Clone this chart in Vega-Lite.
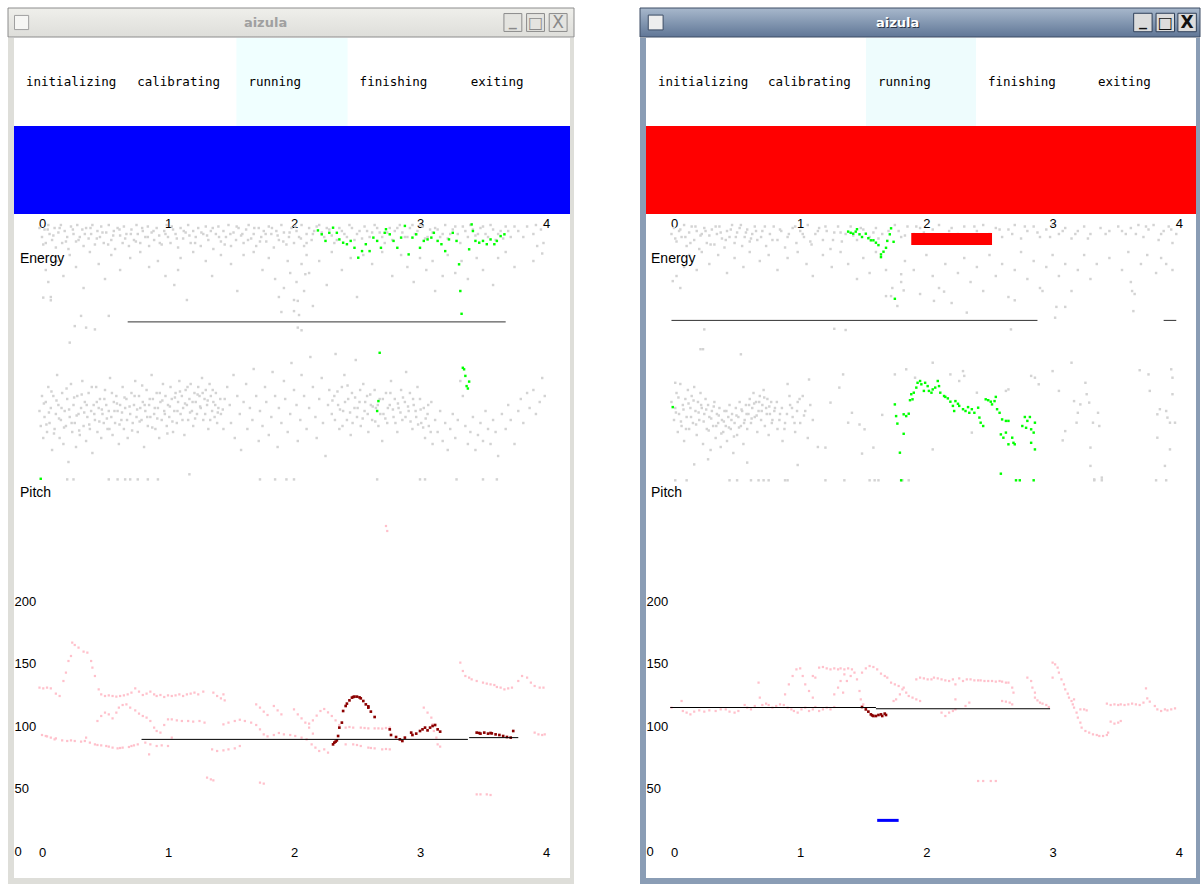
{
"$schema": "https://vega.github.io/schema/vega-lite/v6.json",
"background": "white",
"padding": {"left": 7, "top": 7, "right": 0, "bottom": 0},
"config": {
  "view": {"stroke": null},
  "axis": {"labelFont": "Liberation Sans", "labelFontSize": 13, "labelColor": "#000000"},
  "text": {"font": "Liberation Sans"}
},
"datasets": {
"states": [{"state":"initializing","current":false},{"state":"calibrating","current":false},{"state":"running","current":true},{"state":"finishing","current":false},{"state":"exiting","current":false}],
"LEg": [{"t":-0.02,"v":86},{"t":0,"v":83},{"t":0.02,"v":85.5},{"t":0.03,"v":81},{"t":0.05,"v":87},{"t":0.06,"v":84},{"t":0.08,"v":82},{"t":0.1,"v":86},{"t":0.11,"v":79.5},{"t":0.13,"v":84.5},{"t":0.15,"v":87},{"t":0.16,"v":81},{"t":0.18,"v":85},{"t":0.2,"v":83},{"t":0.21,"v":79},{"t":0.23,"v":86.5},{"t":0.25,"v":84},{"t":0.27,"v":81.5},{"t":0.28,"v":87},{"t":0.3,"v":83},{"t":0.32,"v":85.5},{"t":0.33,"v":80},{"t":0.35,"v":86},{"t":0.37,"v":82.5},{"t":0.39,"v":84},{"t":0.4,"v":87},{"t":0.42,"v":80.5},{"t":0.44,"v":85},{"t":0.46,"v":83},{"t":0.47,"v":86.5},{"t":0.49,"v":81},{"t":0.51,"v":84.5},{"t":0.53,"v":87},{"t":0.55,"v":82},{"t":0.57,"v":85},{"t":0.58,"v":79},{"t":0.6,"v":86},{"t":0.62,"v":83.5},{"t":0.64,"v":81},{"t":0.65,"v":86.5},{"t":0.67,"v":84},{"t":0.69,"v":80},{"t":0.71,"v":85.5},{"t":0.73,"v":82},{"t":0.75,"v":87},{"t":0.76,"v":84},{"t":0.78,"v":81},{"t":0.8,"v":85},{"t":0.82,"v":83},{"t":0.84,"v":86.5},{"t":0.85,"v":80},{"t":0.87,"v":84.5},{"t":0.89,"v":82},{"t":0.91,"v":86},{"t":0.93,"v":83.5},{"t":0.95,"v":80.5},{"t":0.97,"v":85},{"t":0.99,"v":87},{"t":1,"v":83},{"t":1.02,"v":81},{"t":1.04,"v":85.5},{"t":1.06,"v":84},{"t":1.08,"v":79.5},{"t":1.1,"v":86},{"t":1.12,"v":82.5},{"t":1.14,"v":84.5},{"t":1.16,"v":87},{"t":1.18,"v":81},{"t":1.2,"v":85},{"t":1.22,"v":83},{"t":1.24,"v":86},{"t":1.26,"v":80},{"t":1.28,"v":84},{"t":1.3,"v":86.5},{"t":1.32,"v":82},{"t":1.34,"v":85},{"t":1.36,"v":79},{"t":1.38,"v":84},{"t":1.4,"v":86.5},{"t":1.42,"v":81.5},{"t":1.44,"v":85},{"t":1.46,"v":83},{"t":1.48,"v":87},{"t":1.5,"v":80},{"t":1.52,"v":84.5},{"t":1.54,"v":82},{"t":1.56,"v":86},{"t":1.58,"v":83.5},{"t":1.6,"v":81},{"t":1.62,"v":85.5},{"t":1.64,"v":87},{"t":1.66,"v":82.5},{"t":1.68,"v":84},{"t":1.7,"v":80},{"t":1.72,"v":86},{"t":1.74,"v":83},{"t":1.76,"v":85},{"t":1.78,"v":81.5},{"t":1.8,"v":86.5},{"t":1.82,"v":84},{"t":1.84,"v":79.5},{"t":1.86,"v":85},{"t":1.88,"v":82},{"t":1.9,"v":87},{"t":1.92,"v":84.5},{"t":1.94,"v":80.5},{"t":1.96,"v":83},{"t":1.98,"v":86},{"t":2,"v":81},{"t":2.02,"v":85},{"t":2.04,"v":83},{"t":2.06,"v":87},{"t":2.08,"v":80},{"t":2.1,"v":84},{"t":2.12,"v":86},{"t":2.14,"v":82},{"t":2.16,"v":85},{"t":2.2,"v":87},{"t":2.24,"v":83},{"t":2.28,"v":85.5},{"t":2.32,"v":81},{"t":2.36,"v":86},{"t":2.4,"v":84},{"t":2.44,"v":87},{"t":2.48,"v":82},{"t":2.52,"v":85},{"t":2.56,"v":86.5},{"t":2.6,"v":83},{"t":2.64,"v":87},{"t":2.68,"v":84.5},{"t":2.72,"v":81},{"t":2.76,"v":86},{"t":2.8,"v":85},{"t":2.84,"v":87},{"t":2.88,"v":83},{"t":2.92,"v":86},{"t":2.96,"v":84},{"t":3,"v":87},{"t":3.04,"v":82.5},{"t":3.08,"v":85.5},{"t":3.12,"v":86},{"t":3.16,"v":83},{"t":3.2,"v":87},{"t":3.24,"v":84},{"t":3.28,"v":86.5},{"t":3.32,"v":81},{"t":3.36,"v":85},{"t":3.4,"v":87},{"t":3.44,"v":83.5},{"t":3.48,"v":86},{"t":3.52,"v":84},{"t":3.56,"v":87},{"t":3.6,"v":82},{"t":3.64,"v":85},{"t":3.68,"v":86.5},{"t":3.72,"v":83},{"t":3.78,"v":85},{"t":3.85,"v":86.5},{"t":3.9,"v":84},{"t":3.92,"v":87},{"t":3.96,"v":85.5},{"t":3.98,"v":81},{"t":3.93,"v":80},{"t":3.97,"v":77.5},
{"t":0.01,"v":80.5},{"t":0.045,"v":85.5},{"t":0.09,"v":83.5},{"t":0.14,"v":86},{"t":0.19,"v":81.5},{"t":0.245,"v":85.5},{"t":0.29,"v":82},{"t":0.34,"v":84},{"t":0.385,"v":86},{"t":0.435,"v":82.5},{"t":0.48,"v":84.5},{"t":0.525,"v":80.5},{"t":0.565,"v":83.5},{"t":0.615,"v":85.5},{"t":0.66,"v":82.5},{"t":0.705,"v":84},{"t":0.745,"v":81.5},{"t":0.795,"v":86},{"t":0.84,"v":83},{"t":0.885,"v":85},{"t":0.935,"v":81},{"t":0.98,"v":84},{"t":1.03,"v":86.5},{"t":1.07,"v":82.5},{"t":1.125,"v":85},{"t":1.17,"v":83.5},{"t":1.215,"v":81},{"t":1.265,"v":84.5},{"t":1.31,"v":83.5},{"t":1.355,"v":86},{"t":1.405,"v":83},{"t":1.45,"v":80.5},{"t":1.495,"v":84},{"t":1.545,"v":86.5},{"t":1.59,"v":84},{"t":1.635,"v":82},{"t":1.685,"v":86},{"t":1.73,"v":81.5},{"t":1.775,"v":84},{"t":1.825,"v":86},{"t":1.87,"v":83.5},{"t":1.915,"v":81.5},{"t":1.965,"v":84.5},{"t":2.01,"v":86.5},{"t":2.055,"v":82.5},{"t":2.1,"v":81},{"t":2.15,"v":84},{"t":2.18,"v":86.5},{"t":2.22,"v":84.5},{"t":2.26,"v":86},{"t":2.3,"v":83.5},{"t":2.34,"v":82},{"t":2.38,"v":85},{"t":2.42,"v":83},{"t":2.46,"v":86},{"t":2.5,"v":84},{"t":2.54,"v":82.5},{"t":2.58,"v":85},{"t":2.62,"v":84.5},{"t":2.66,"v":86},{"t":2.7,"v":83},{"t":2.74,"v":84.5},{"t":2.78,"v":82},{"t":2.82,"v":86},{"t":2.86,"v":84.5},{"t":2.9,"v":83},{"t":2.94,"v":87},{"t":2.98,"v":85},{"t":3.02,"v":86.5},{"t":3.06,"v":83},{"t":3.1,"v":84.5},{"t":3.14,"v":85.5},{"t":3.18,"v":84},{"t":3.22,"v":82.5},{"t":3.26,"v":85.5},{"t":3.3,"v":84},{"t":3.34,"v":86.5},{"t":3.38,"v":83},{"t":3.42,"v":85.5},{"t":3.46,"v":84},{"t":3.5,"v":86.5},{"t":3.54,"v":83},{"t":3.58,"v":85.5},{"t":3.62,"v":84},{"t":3.66,"v":82.5},{"t":3.7,"v":85},{"t":3.75,"v":86.5},{"t":3.82,"v":83},
{"t":0,"v":76},{"t":0.03,"v":72},{"t":0.05,"v":68},{"t":0.07,"v":63},{"t":0.12,"v":75},{"t":0.17,"v":70},{"t":0.22,"v":77},{"t":0.27,"v":73},{"t":0.33,"v":66},{"t":0.38,"v":78},{"t":0.45,"v":74},{"t":0.5,"v":69},{"t":0.55,"v":77},{"t":0.62,"v":72},{"t":0.7,"v":76},{"t":0.78,"v":78},{"t":0.85,"v":73},{"t":0.92,"v":75},{"t":0.98,"v":70},{"t":1.05,"v":67},{"t":1.08,"v":72},{"t":1.1,"v":76},{"t":1.15,"v":62},{"t":1.2,"v":78},{"t":1.3,"v":75},{"t":1.35,"v":70},{"t":1.42,"v":77},{"t":1.5,"v":74},{"t":1.55,"v":65},{"t":1.6,"v":77},{"t":1.68,"v":78},{"t":1.75,"v":72},{"t":1.8,"v":76},{"t":1.85,"v":69},{"t":1.88,"v":63},{"t":1.9,"v":58},{"t":1.92,"v":66},{"t":1.95,"v":75},{"t":1.97,"v":71},{"t":2,"v":62},{"t":2.02,"v":68},{"t":2.04,"v":57},{"t":2.06,"v":74},{"t":2.08,"v":65},{"t":2.1,"v":77},{"t":2.12,"v":71},{"t":2.15,"v":60},{"t":2.2,"v":75},{"t":2.26,"v":67},{"t":2.3,"v":78},{"t":2.38,"v":72},{"t":2.45,"v":76},{"t":2.5,"v":63},{"t":2.55,"v":77},{"t":2.62,"v":74},{"t":2.7,"v":78},{"t":2.78,"v":70},{"t":2.85,"v":77},{"t":2.9,"v":73},{"t":2.95,"v":68},{"t":3,"v":76},{"t":3.05,"v":72},{"t":3.1,"v":75},{"t":3.12,"v":65},{"t":3.18,"v":70},{"t":3.22,"v":77},{"t":3.28,"v":71},{"t":3.33,"v":75},{"t":3.38,"v":69},{"t":3.45,"v":76},{"t":3.5,"v":72},{"t":3.58,"v":67},{"t":3.62,"v":76},{"t":3.68,"v":78},{"t":3.75,"v":73},{"t":3.9,"v":75},
{"t":0.01,"v":62.8},{"t":0.07,"v":61.9},{"t":0.31,"v":56.7},{"t":0.35,"v":52.8},{"t":0.42,"v":52.2},{"t":0.26,"v":53.3},{"t":0.22,"v":47.8},{"t":0.53,"v":56.7},{"t":2.03,"v":61.7},{"t":2.09,"v":70.6},{"t":2.03,"v":52.8},{"t":2.06,"v":51.9},{"t":2,"v":58.3},
{"t":-0.02,"v":25},{"t":-0.01,"v":20},{"t":0,"v":30},{"t":0.01,"v":16},{"t":0.02,"v":23},{"t":0.03,"v":28},{"t":0.04,"v":18},{"t":0.05,"v":33},{"t":0.06,"v":21},{"t":0.07,"v":26},{"t":0.08,"v":12},{"t":0.09,"v":30},{"t":0.1,"v":19},{"t":0.11,"v":24},{"t":0.12,"v":37},{"t":0.13,"v":27},{"t":0.14,"v":16},{"t":0.15,"v":22},{"t":0.16,"v":31},{"t":0.17,"v":14},{"t":0.18,"v":25},{"t":0.19,"v":20},{"t":0.2,"v":29},{"t":0.21,"v":8},{"t":0.22,"v":23},{"t":0.23,"v":34},{"t":0.24,"v":18},{"t":0.25,"v":27},{"t":0.26,"v":21},{"t":0.27,"v":13},{"t":0.28,"v":30},{"t":0.29,"v":24},{"t":0.3,"v":17},{"t":0.31,"v":26},{"t":0.32,"v":35},{"t":0.33,"v":20},{"t":0.34,"v":28},{"t":0.35,"v":15},{"t":0.36,"v":23},{"t":0.37,"v":31},{"t":0.38,"v":19},{"t":0.39,"v":25},{"t":0.4,"v":11},{"t":0.41,"v":27},{"t":0.42,"v":22},{"t":0.43,"v":33},{"t":0.44,"v":18},{"t":0.45,"v":26},{"t":0.46,"v":29},{"t":0.47,"v":16},{"t":0.48,"v":24},{"t":0.49,"v":21},{"t":0.5,"v":32},{"t":0.51,"v":27},{"t":0.52,"v":19},{"t":0.53,"v":25},{"t":0.54,"v":36},{"t":0.55,"v":23},{"t":0.56,"v":17},{"t":0.57,"v":28},{"t":0.58,"v":21},{"t":0.59,"v":30},{"t":0.6,"v":25},{"t":0.61,"v":14},{"t":0.62,"v":27},{"t":0.63,"v":22},{"t":0.64,"v":33},{"t":0.65,"v":19},{"t":0.66,"v":26},{"t":0.67,"v":29},{"t":0.68,"v":16},{"t":0.7,"v":24},{"t":0.71,"v":31},{"t":0.72,"v":21},{"t":0.73,"v":27},{"t":0.74,"v":35},{"t":0.75,"v":23},{"t":0.76,"v":18},{"t":0.77,"v":30},{"t":0.78,"v":26},{"t":0.79,"v":22},{"t":0.8,"v":28},{"t":0.81,"v":13},{"t":0.82,"v":25},{"t":0.83,"v":32},{"t":0.84,"v":20},{"t":0.85,"v":27},{"t":0.86,"v":23},{"t":0.87,"v":37},{"t":0.88,"v":29},{"t":0.89,"v":24},{"t":0.9,"v":19},{"t":0.91,"v":31},{"t":0.92,"v":26},{"t":0.93,"v":16},{"t":0.94,"v":28},{"t":0.95,"v":22},{"t":0.96,"v":34},{"t":0.97,"v":25},{"t":0.98,"v":30},{"t":0.99,"v":20},{"t":1,"v":27},{"t":1.01,"v":23},{"t":1.02,"v":33},{"t":1.03,"v":29},{"t":1.04,"v":18},{"t":1.05,"v":25},{"t":1.06,"v":31},{"t":1.07,"v":21},{"t":1.08,"v":28},{"t":1.09,"v":35},{"t":1.1,"v":24},{"t":1.11,"v":30},{"t":1.12,"v":26},{"t":1.13,"v":17},{"t":1.14,"v":32},{"t":1.15,"v":27},{"t":1.16,"v":22},{"t":1.17,"v":29},{"t":1.18,"v":34},{"t":1.19,"v":25},{"t":1.2,"v":20},{"t":1.21,"v":31},{"t":1.22,"v":28},{"t":1.23,"v":24},{"t":1.24,"v":33},{"t":1.25,"v":30},{"t":1.26,"v":26},{"t":1.27,"v":36},{"t":1.28,"v":22},{"t":1.29,"v":29},{"t":1.3,"v":32},{"t":1.31,"v":27},{"t":1.32,"v":19},{"t":1.33,"v":34},{"t":1.34,"v":30},{"t":1.35,"v":25},{"t":1.36,"v":28},{"t":1.37,"v":23},{"t":1.38,"v":31},{"t":1.39,"v":21},{"t":1.4,"v":26},{"t":1.42,"v":24},{"t":1.44,"v":19},{"t":1.45,"v":29},
{"t":0.015,"v":27.5},{"t":0.035,"v":20.5},{"t":0.055,"v":24.5},{"t":0.075,"v":31.5},{"t":0.095,"v":17.5},{"t":0.115,"v":28.5},{"t":0.135,"v":22.5},{"t":0.155,"v":26},{"t":0.175,"v":19.5},{"t":0.195,"v":32.5},{"t":0.215,"v":25.5},{"t":0.235,"v":21},{"t":0.255,"v":29.5},{"t":0.275,"v":23.5},{"t":0.295,"v":18.5},{"t":0.315,"v":30.5},{"t":0.335,"v":24.5},{"t":0.355,"v":27},{"t":0.375,"v":20.5},{"t":0.395,"v":33},{"t":0.415,"v":24},{"t":0.435,"v":28},{"t":0.455,"v":21.5},{"t":0.475,"v":25.5},{"t":0.495,"v":29},{"t":0.515,"v":22.5},{"t":0.535,"v":19},{"t":0.555,"v":31},{"t":0.575,"v":25},{"t":0.595,"v":27.5},{"t":0.615,"v":20.5},{"t":0.635,"v":24.5},{"t":0.655,"v":29.5},{"t":0.675,"v":22},{"t":0.695,"v":26.5},{"t":0.715,"v":18.5},{"t":0.735,"v":30},{"t":0.755,"v":25.5},{"t":0.775,"v":21.5},{"t":0.795,"v":33.5},{"t":0.815,"v":27},{"t":0.835,"v":23},{"t":0.855,"v":29},{"t":0.875,"v":19.5},{"t":0.895,"v":26},{"t":0.915,"v":22.5},{"t":0.935,"v":31},{"t":0.955,"v":28.5},{"t":0.975,"v":24},{"t":0.995,"v":17.5},{"t":1.015,"v":26.5},{"t":1.035,"v":21.5},{"t":1.055,"v":29.5},{"t":1.075,"v":25},{"t":1.095,"v":31.5},{"t":1.115,"v":22},{"t":1.135,"v":27.5},{"t":1.155,"v":33},{"t":1.175,"v":24.5},{"t":1.195,"v":28},{"t":1.215,"v":22.5},{"t":1.235,"v":30.5},{"t":1.255,"v":26.5},{"t":1.275,"v":31},{"t":1.295,"v":24},{"t":1.315,"v":28.5},{"t":1.335,"v":22},{"t":1.355,"v":32},{"t":1.375,"v":27},{"t":1.395,"v":24.5},{"t":1.415,"v":29},{"t":1.435,"v":25.5},
{"t":1.47,"v":33},{"t":1.49,"v":27},{"t":1.5,"v":21},{"t":1.52,"v":37},{"t":1.53,"v":16},{"t":1.55,"v":30},{"t":1.57,"v":24},{"t":1.58,"v":12},{"t":1.6,"v":28},{"t":1.62,"v":34},{"t":1.63,"v":19},{"t":1.65,"v":26},{"t":1.67,"v":22},{"t":1.68,"v":39},{"t":1.7,"v":30},{"t":1.72,"v":15},{"t":1.73,"v":25},{"t":1.75,"v":20},{"t":1.77,"v":33},{"t":1.78,"v":28},{"t":1.8,"v":17},{"t":1.82,"v":23},{"t":1.83,"v":38},{"t":1.85,"v":30},{"t":1.87,"v":13},{"t":1.88,"v":26},{"t":1.9,"v":21},{"t":1.92,"v":35},{"t":1.93,"v":29},{"t":1.95,"v":18},{"t":1.97,"v":24},{"t":1.98,"v":41},{"t":2,"v":32},{"t":2.02,"v":27},{"t":2.03,"v":15},{"t":2.05,"v":22},{"t":2.06,"v":37},{"t":2.08,"v":30},{"t":2.1,"v":19},{"t":2.12,"v":26},{"t":2.13,"v":43},{"t":2.15,"v":33},{"t":2.17,"v":23},{"t":2.18,"v":16},{"t":2.2,"v":29},{"t":2.22,"v":36},{"t":2.23,"v":21},{"t":2.25,"v":10},{"t":2.27,"v":27},{"t":2.28,"v":32},
{"t":2.3,"v":24},{"t":2.32,"v":30},{"t":2.33,"v":44},{"t":2.35,"v":27},{"t":2.36,"v":19},{"t":2.38,"v":33},{"t":2.39,"v":25},{"t":2.4,"v":37},{"t":2.42,"v":22},{"t":2.43,"v":29},{"t":2.45,"v":17},{"t":2.46,"v":31},{"t":2.48,"v":26},{"t":2.49,"v":42},{"t":2.5,"v":23},{"t":2.52,"v":28},{"t":2.53,"v":20},{"t":2.55,"v":34},{"t":2.56,"v":25},{"t":2.58,"v":30},{"t":2.59,"v":18},{"t":2.61,"v":27},{"t":2.62,"v":22},{"t":2.64,"v":32},{"t":2.65,"v":26},{"t":2.67,"v":20},{"t":2.68,"v":29},{"t":2.7,"v":15},{"t":2.71,"v":24},{"t":2.73,"v":31},{"t":2.74,"v":21},{"t":2.76,"v":27},{"t":2.77,"v":35},{"t":2.79,"v":23},{"t":2.8,"v":29},{"t":2.82,"v":18},{"t":2.83,"v":26},{"t":2.85,"v":32},{"t":2.86,"v":22},{"t":2.88,"v":28},{"t":2.89,"v":38},{"t":2.91,"v":25},{"t":2.92,"v":31},{"t":2.94,"v":19},{"t":2.95,"v":27},{"t":2.97,"v":23},{"t":2.98,"v":33},{"t":3,"v":29},{"t":3.01,"v":21},{"t":3.03,"v":26},{"t":3.04,"v":16},{"t":3.06,"v":24},{"t":3.07,"v":20},{"t":3.09,"v":28},{"t":3.1,"v":14},
{"t":2.305,"v":28.5},{"t":2.325,"v":22},{"t":2.345,"v":31.5},{"t":2.365,"v":25.5},{"t":2.385,"v":20},{"t":2.405,"v":28},{"t":2.425,"v":33.5},{"t":2.445,"v":24.5},{"t":2.465,"v":21},{"t":2.485,"v":29.5},{"t":2.505,"v":26},{"t":2.525,"v":32},{"t":2.545,"v":22.5},{"t":2.565,"v":28},{"t":2.585,"v":24},{"t":2.605,"v":30.5},{"t":2.625,"v":26.5},{"t":2.645,"v":21.5},{"t":2.665,"v":27},{"t":2.685,"v":24},{"t":2.705,"v":29},{"t":2.725,"v":22.5},{"t":2.745,"v":26},{"t":2.765,"v":31},{"t":2.785,"v":25.5},{"t":2.805,"v":21},{"t":2.825,"v":27.5},{"t":2.845,"v":24.5},{"t":2.865,"v":29.5},{"t":2.885,"v":23},{"t":2.905,"v":26.5},{"t":2.925,"v":21.5},{"t":2.945,"v":29},{"t":2.965,"v":25},{"t":2.985,"v":20.5},{"t":3.005,"v":25.5},{"t":3.025,"v":19.5},{"t":3.045,"v":22.5},{"t":3.065,"v":27},{"t":3.085,"v":18},
{"t":3.12,"v":22},{"t":3.14,"v":18},{"t":3.16,"v":25},{"t":3.18,"v":15},{"t":3.2,"v":21},{"t":3.22,"v":12},{"t":3.24,"v":19},{"t":3.26,"v":24},{"t":3.28,"v":16},{"t":3.3,"v":22},{"t":3.32,"v":35},{"t":3.34,"v":30},{"t":3.36,"v":20},{"t":3.38,"v":14},{"t":3.4,"v":18},{"t":3.42,"v":23},{"t":3.44,"v":12},{"t":3.46,"v":17},{"t":3.48,"v":21},{"t":3.5,"v":15},{"t":3.52,"v":25},{"t":3.54,"v":19},{"t":3.56,"v":14},{"t":3.58,"v":22},{"t":3.6,"v":18},{"t":3.62,"v":10},{"t":3.65,"v":24},{"t":3.68,"v":19},{"t":3.7,"v":27},{"t":3.72,"v":22},{"t":3.75,"v":14},{"t":3.78,"v":25},{"t":3.8,"v":29},{"t":3.82,"v":21},{"t":3.85,"v":31},{"t":3.87,"v":26},{"t":3.9,"v":32},{"t":3.92,"v":24},{"t":3.95,"v":28},{"t":3.97,"v":36},{"t":3.99,"v":30},
{"t":0.2,"v":2.2},{"t":0.25,"v":2.2},{"t":0.53,"v":2.2},{"t":0.6,"v":2.2},{"t":0.66,"v":2.2},{"t":0.7,"v":2.2},{"t":0.76,"v":2.2},{"t":0.84,"v":2.2},{"t":0.92,"v":2.2},{"t":1.73,"v":2.2},{"t":1.85,"v":2.2},{"t":1.94,"v":2.2},{"t":2,"v":2.2},{"t":2.66,"v":2.2},{"t":3,"v":2.2},{"t":3.04,"v":2.2},{"t":3.29,"v":2.2},{"t":3.5,"v":2.2},{"t":3.61,"v":2.2},{"t":1.17,"v":3.9}],
"LEgreen": [{"t":2.19,"v":85.2},{"t":2.22,"v":83.9},{"t":2.25,"v":81.7},{"t":2.28,"v":84.4},{"t":2.31,"v":86.1},{"t":2.34,"v":84.4},{"t":2.36,"v":82.2},{"t":2.39,"v":81.1},{"t":2.42,"v":80.6},{"t":2.45,"v":81.7},{"t":2.48,"v":79.4},{"t":2.51,"v":76.1},{"t":2.54,"v":78.3},{"t":2.57,"v":80.6},{"t":2.6,"v":78.3},{"t":2.63,"v":82.8},{"t":2.66,"v":81.7},{"t":2.69,"v":79.4},{"t":2.72,"v":84.4},{"t":2.73,"v":85.6},{"t":2.76,"v":83.9},{"t":2.79,"v":81.7},{"t":2.82,"v":79.4},{"t":2.85,"v":82.8},{"t":2.88,"v":86.7},{"t":2.91,"v":77.2},{"t":2.94,"v":82.8},{"t":2.97,"v":83.9},{"t":3,"v":79.4},{"t":3.03,"v":81.7},{"t":3.06,"v":82.2},{"t":3.09,"v":82.8},{"t":3.11,"v":84.4},{"t":3.14,"v":81.7},{"t":3.17,"v":80.6},{"t":3.2,"v":78.3},{"t":3.23,"v":82.2},{"t":3.26,"v":84.4},{"t":3.29,"v":81.7},{"t":3.31,"v":73.9},{"t":3.32,"v":65},{"t":3.33,"v":57.4},{"t":3.41,"v":87.2},{"t":3.42,"v":85},{"t":3.44,"v":81.7},{"t":3.47,"v":81.1},{"t":3.5,"v":81.7},{"t":3.53,"v":80.6},{"t":3.56,"v":82.2},{"t":3.59,"v":80.6},{"t":3.61,"v":81.7},{"t":3.64,"v":83.3},{"t":3.67,"v":83.9},{"t":3.39,"v":78.9},
{"t":2.68,"v":44.4},{"t":2.67,"v":28.3},{"t":2.66,"v":25},{"t":3.34,"v":39.4},{"t":3.35,"v":38.9},{"t":3.36,"v":36.7},{"t":3.39,"v":34.8},{"t":3.37,"v":33.3},{"t":3.38,"v":32.5},{"t":-0.01,"v":2.4}],
"LErule": [{"t0":0.68,"t1":3.68,"v":54.7}],
"LPpink": [{"t":0,"hz":92.8},{"t":0.03,"hz":92},{"t":0.07,"hz":90.7},{"t":0.11,"hz":90.1},{"t":0.16,"hz":88.5},{"t":0.2,"hz":88},{"t":0.26,"hz":88},{"t":0.31,"hz":87.5},{"t":0.35,"hz":90.7},{"t":0.38,"hz":86.7},{"t":0.42,"hz":85.3},{"t":0.47,"hz":84.5},{"t":0.51,"hz":84},{"t":0.56,"hz":82.7},{"t":0.6,"hz":82.1},{"t":0.64,"hz":82.7},{"t":0.69,"hz":83.2},{"t":0.73,"hz":84.5},{"t":0.76,"hz":85.3},{"t":0.04,"hz":91.7},{"t":0.1,"hz":89.3},{"t":0.23,"hz":88.5},{"t":0.34,"hz":88},{"t":0.44,"hz":84.8},{"t":0.53,"hz":83.5},{"t":0.62,"hz":82.4},{"t":0.71,"hz":84},
{"t":-0.02,"hz":130.7},{"t":0.01,"hz":130.1},{"t":0.04,"hz":130.7},{"t":0.07,"hz":130.1},{"t":0.11,"hz":125.9},{"t":0.14,"hz":124},{"t":0.17,"hz":136},{"t":0.19,"hz":142.7},{"t":0.21,"hz":152},{"t":0.23,"hz":156},{"t":0.24,"hz":166.7},{"t":0.26,"hz":164.8},{"t":0.29,"hz":162.7},{"t":0.33,"hz":159.5},{"t":0.36,"hz":158.7},{"t":0.39,"hz":152},{"t":0.4,"hz":146.7},{"t":0.42,"hz":140},
{"t":0.45,"hz":129.3},{"t":0.47,"hz":125.3},{"t":0.5,"hz":124},{"t":0.53,"hz":124.5},{"t":0.56,"hz":124},{"t":0.59,"hz":123.5},{"t":0.62,"hz":124},{"t":0.65,"hz":124.5},{"t":0.68,"hz":125.3},{"t":0.71,"hz":126.7},{"t":0.74,"hz":130.1},{"t":0.77,"hz":127.5},{"t":0.8,"hz":124.8},{"t":0.83,"hz":125.9},{"t":0.86,"hz":127.5},{"t":0.89,"hz":125.3},{"t":0.91,"hz":124},{"t":0.94,"hz":124.8},{"t":0.97,"hz":123.2},{"t":1,"hz":124.5},{"t":1.03,"hz":124},{"t":1.06,"hz":124.5},{"t":1.09,"hz":125.3},{"t":1.12,"hz":124},{"t":1.15,"hz":125.3},{"t":1.18,"hz":125.9},{"t":1.21,"hz":126.7},{"t":1.24,"hz":125.3},{"t":1.28,"hz":127.5},
{"t":0.44,"hz":104},{"t":0.47,"hz":108},{"t":0.5,"hz":110.7},{"t":0.53,"hz":109.3},{"t":0.56,"hz":106.1},{"t":0.59,"hz":110.7},{"t":0.61,"hz":114.7},{"t":0.64,"hz":116.8},{"t":0.67,"hz":117.3},{"t":0.7,"hz":114.7},{"t":0.74,"hz":112.5},{"t":0.77,"hz":109.9},{"t":0.8,"hz":108},{"t":0.83,"hz":106.7},{"t":0.86,"hz":104},{"t":0.89,"hz":98.7},{"t":0.91,"hz":96},{"t":0.94,"hz":94.7},{"t":0.97,"hz":100.8},{"t":1,"hz":105.3},{"t":1.03,"hz":105.3},{"t":1.07,"hz":104.5},{"t":1.11,"hz":104},{"t":1.16,"hz":104},{"t":1.2,"hz":103.5},{"t":1.25,"hz":104},{"t":1.29,"hz":102.7},
{"t":0.82,"hz":86.7},{"t":0.86,"hz":85.3},{"t":0.91,"hz":84},{"t":0.95,"hz":84.5},{"t":1,"hz":84},{"t":1.03,"hz":90.7},{"t":0.85,"hz":77.3},
{"t":1.36,"hz":126.7},{"t":1.39,"hz":124},{"t":1.42,"hz":122.1},{"t":1.45,"hz":120.5},{"t":1.44,"hz":125.3},
{"t":1.35,"hz":81.3},{"t":1.39,"hz":80},{"t":1.44,"hz":80.5},{"t":1.48,"hz":81.3},{"t":1.53,"hz":82.1},{"t":1.57,"hz":84},
{"t":1.44,"hz":101.3},{"t":1.48,"hz":102.7},{"t":1.53,"hz":104},{"t":1.57,"hz":105},{"t":1.61,"hz":104},{"t":1.66,"hz":102.7},{"t":1.7,"hz":100.8},{"t":1.73,"hz":97.3},{"t":1.76,"hz":93.3},{"t":1.79,"hz":91.7},{"t":1.84,"hz":92.8},{"t":1.88,"hz":94.4},{"t":1.92,"hz":93.3},{"t":1.97,"hz":92.8},{"t":2.01,"hz":92},{"t":2.06,"hz":90.7},{"t":2.1,"hz":89.3},
{"t":1.7,"hz":117.3},{"t":1.73,"hz":114.7},{"t":1.76,"hz":111.5},{"t":1.79,"hz":108.8},{"t":1.84,"hz":116},{"t":1.87,"hz":112.5},{"t":1.9,"hz":109.3},
{"t":2,"hz":113.3},{"t":2.03,"hz":109.3},{"t":2.06,"hz":106.1},{"t":2.09,"hz":102.7},{"t":2.12,"hz":98.7},{"t":2.15,"hz":93.9},
{"t":2.14,"hz":85.3},{"t":2.17,"hz":82.7},{"t":2.2,"hz":80},{"t":2.24,"hz":81.3},{"t":2.27,"hz":78.7},
{"t":2.12,"hz":101.9},{"t":2.15,"hz":104.5},{"t":2.18,"hz":108.3},{"t":2.21,"hz":112},{"t":2.24,"hz":113.6},{"t":2.27,"hz":110.9},{"t":2.3,"hz":108},{"t":2.33,"hz":104.5},{"t":2.36,"hz":100.8},
{"t":2.41,"hz":98.7},{"t":2.47,"hz":98.7},{"t":2.53,"hz":98.7},{"t":2.59,"hz":98.1},{"t":2.64,"hz":98.1},{"t":2.7,"hz":97.9},{"t":2.76,"hz":98.7},{"t":2.44,"hz":99.2},{"t":2.56,"hz":98.4},{"t":2.67,"hz":98.1},{"t":2.73,"hz":98.4},
{"t":2.41,"hz":85.3},{"t":2.47,"hz":85.3},{"t":2.53,"hz":84},{"t":2.59,"hz":82.7},{"t":2.64,"hz":82.1},{"t":2.7,"hz":81.3},{"t":2.76,"hz":81.3},{"t":2.5,"hz":84.8},{"t":2.61,"hz":82.4},{"t":2.73,"hz":81.6},
{"t":3.03,"hz":114.7},{"t":3.06,"hz":110.7},{"t":3.09,"hz":106.7},{"t":3.1,"hz":101.3},{"t":3.11,"hz":96},{"t":3.13,"hz":90.7},{"t":3.14,"hz":85.3},{"t":3.16,"hz":83.5},
{"t":3.32,"hz":150.7},{"t":3.34,"hz":144},{"t":3.36,"hz":140},{"t":3.41,"hz":137.3},{"t":3.45,"hz":136},{"t":3.5,"hz":134.7},{"t":3.56,"hz":133.3},{"t":3.61,"hz":131.2},{"t":3.67,"hz":129.3},{"t":3.73,"hz":130.7},{"t":3.78,"hz":136},{"t":3.81,"hz":140},{"t":3.85,"hz":138.7},{"t":3.91,"hz":132},{"t":3.95,"hz":130.7},{"t":3.98,"hz":130.7},{"t":3.39,"hz":138.7},{"t":3.53,"hz":133.9},{"t":3.59,"hz":132.8},{"t":3.64,"hz":130.7},{"t":3.7,"hz":130.1},{"t":3.88,"hz":134.7},
{"t":3.91,"hz":94.7},{"t":3.94,"hz":93.3},{"t":3.97,"hz":92.8},{"t":3.99,"hz":93.3},
{"t":1.31,"hz":58.7},{"t":1.34,"hz":57.3},{"t":1.36,"hz":56.5},{"t":1.73,"hz":54.7},{"t":1.76,"hz":53.9},{"t":3.45,"hz":45.3},{"t":3.48,"hz":45.3},{"t":3.53,"hz":45.3},{"t":3.56,"hz":44.8},{"t":2.73,"hz":260},{"t":2.74,"hz":256}],
"LPred": [{"t":2.31,"hz":85.3},{"t":2.32,"hz":86.7},{"t":2.33,"hz":87.5},{"t":2.34,"hz":88.5},{"t":2.35,"hz":92},{"t":2.36,"hz":98.7},{"t":2.38,"hz":102.7},{"t":2.39,"hz":112},{"t":2.41,"hz":116},{"t":2.42,"hz":117.9},{"t":2.44,"hz":120.5},{"t":2.46,"hz":122.7},{"t":2.47,"hz":123.2},{"t":2.48,"hz":123.5},{"t":2.5,"hz":123.5},{"t":2.52,"hz":122.9},{"t":2.53,"hz":122.1},{"t":2.55,"hz":120},{"t":2.57,"hz":117.3},{"t":2.59,"hz":114.7},{"t":2.59,"hz":115.7},{"t":2.61,"hz":111.5},{"t":2.64,"hz":107.2},
{"t":2.76,"hz":97.3},{"t":2.77,"hz":92.8},{"t":2.81,"hz":91.2},{"t":2.84,"hz":89.3},{"t":2.86,"hz":88},{"t":2.88,"hz":90.7},{"t":2.93,"hz":94.7},{"t":2.94,"hz":92.8},{"t":2.97,"hz":93.9},{"t":3,"hz":96},{"t":3.02,"hz":97.3},{"t":3.04,"hz":98.7},{"t":3.06,"hz":96.5},{"t":3.08,"hz":98.7},{"t":3.1,"hz":100},{"t":3.12,"hz":100.8},{"t":3.14,"hz":97.3},{"t":3.16,"hz":95.5},
{"t":3.45,"hz":94.7},{"t":3.47,"hz":94.4},{"t":3.48,"hz":93.9},{"t":3.51,"hz":94.7},{"t":3.54,"hz":93.9},{"t":3.56,"hz":94.4},{"t":3.57,"hz":94.1},{"t":3.6,"hz":93.3},{"t":3.63,"hz":92.8},{"t":3.66,"hz":92},{"t":3.69,"hz":91.2},{"t":3.72,"hz":90.7},{"t":3.74,"hz":96}],
"LPrule": [{"t0":0.79,"t1":3.38,"hz":89.3},{"t0":3.39,"t1":3.78,"hz":90.7}],
"REg": [{"t":-0.02,"v":84},{"t":0,"v":86},{"t":0.02,"v":81.5},{"t":0.04,"v":85},{"t":0.06,"v":83},{"t":0.08,"v":87},{"t":0.1,"v":80},{"t":0.12,"v":84.5},{"t":0.14,"v":86.5},{"t":0.16,"v":82},{"t":0.18,"v":85},{"t":0.2,"v":79},{"t":0.22,"v":84},{"t":0.24,"v":86},{"t":0.26,"v":81},{"t":0.28,"v":83.5},{"t":0.3,"v":85.5},{"t":0.32,"v":80.5},{"t":0.34,"v":84},{"t":0.36,"v":86.5},{"t":0.38,"v":82.5},{"t":0.4,"v":79.5},{"t":0.42,"v":85},{"t":0.44,"v":83},{"t":0.46,"v":87},{"t":0.48,"v":81},{"t":0.5,"v":84.5},{"t":0.52,"v":86},{"t":0.54,"v":80},{"t":0.56,"v":83},{"t":0.58,"v":85.5},{"t":0.6,"v":81.5},{"t":0.62,"v":84},{"t":0.64,"v":86.5},{"t":0.66,"v":82},{"t":0.7,"v":85},{"t":0.73,"v":80},{"t":0.76,"v":84},{"t":0.79,"v":86.5},{"t":0.82,"v":82},{"t":0.85,"v":85},{"t":0.88,"v":79.5},{"t":0.91,"v":84},{"t":0.94,"v":86},{"t":0.97,"v":81},{"t":1,"v":85},{"t":1.03,"v":83},{"t":1.06,"v":87},{"t":1.09,"v":80.5},{"t":1.12,"v":84},{"t":1.15,"v":86},{"t":1.18,"v":82},{"t":1.21,"v":85},{"t":1.24,"v":79},{"t":1.27,"v":84.5},{"t":1.3,"v":86.5},{"t":1.33,"v":81.5},{"t":1.36,"v":84},{"t":1.4,"v":86.5},{"t":1.45,"v":82},{"t":1.5,"v":85.5},{"t":1.55,"v":83},{"t":1.6,"v":86},{"t":1.65,"v":84},{"t":1.7,"v":85},{"t":1.75,"v":87},{"t":1.8,"v":83},{"t":1.85,"v":86.5},{"t":1.9,"v":84},{"t":1.95,"v":86},{"t":2,"v":82},{"t":2.05,"v":85.5},{"t":2.1,"v":87},{"t":2.15,"v":83.5},{"t":2.2,"v":86},{"t":2.25,"v":84},{"t":2.3,"v":86.5},{"t":2.35,"v":82},{"t":2.4,"v":85},{"t":2.45,"v":87},{"t":2.5,"v":84},{"t":2.55,"v":86},{"t":2.6,"v":83},{"t":2.65,"v":85.5},{"t":2.7,"v":87},{"t":2.75,"v":82.5},{"t":2.8,"v":85},{"t":2.85,"v":86.5},{"t":2.9,"v":83},{"t":2.95,"v":85.5},{"t":3,"v":87},{"t":3.05,"v":84},{"t":3.1,"v":86},{"t":3.15,"v":82.5},{"t":3.2,"v":85},{"t":3.25,"v":86.5},{"t":3.3,"v":84},{"t":3.38,"v":86},{"t":3.45,"v":85},{"t":3.52,"v":86.5},{"t":3.58,"v":84},{"t":3.62,"v":86},{"t":3.68,"v":87},{"t":3.72,"v":83},{"t":3.76,"v":85.5},{"t":3.8,"v":87},{"t":3.84,"v":82},{"t":3.88,"v":85},{"t":3.92,"v":86.5},{"t":3.95,"v":81},{"t":3.98,"v":84},
{"t":0.01,"v":82.5},{"t":0.05,"v":85.5},{"t":0.09,"v":83},{"t":0.13,"v":81},{"t":0.17,"v":86.5},{"t":0.21,"v":83.5},{"t":0.25,"v":85},{"t":0.29,"v":80.5},{"t":0.33,"v":86.5},{"t":0.37,"v":84.5},{"t":0.41,"v":82},{"t":0.45,"v":85.5},{"t":0.49,"v":83},{"t":0.53,"v":87},{"t":0.57,"v":84.5},{"t":0.61,"v":82.5},{"t":0.65,"v":85},{"t":0.69,"v":83},{"t":0.72,"v":86.5},{"t":0.78,"v":82},{"t":0.84,"v":85.5},{"t":0.9,"v":83},{"t":0.96,"v":86.5},{"t":1.02,"v":84},{"t":1.08,"v":81.5},{"t":1.14,"v":85},{"t":1.2,"v":86.5},{"t":1.26,"v":82},{"t":1.32,"v":84.5},{"t":1.42,"v":83.5},{"t":1.48,"v":86},{"t":1.58,"v":84.5},{"t":1.62,"v":82.5},{"t":1.78,"v":85},{"t":1.83,"v":83.5},{"t":1.92,"v":86.5},{"t":1.98,"v":84.5},{"t":2.08,"v":83},{"t":2.18,"v":85},{"t":2.28,"v":83},{"t":2.38,"v":86.5},{"t":2.48,"v":82.5},{"t":2.58,"v":85.5},{"t":2.68,"v":84},{"t":2.78,"v":86.5},{"t":2.88,"v":84.5},{"t":2.98,"v":83},{"t":3.08,"v":85},{"t":3.18,"v":84},{"t":3.28,"v":82.5},{"t":3.42,"v":84},{"t":3.55,"v":85},{"t":3.66,"v":84},{"t":3.74,"v":86.5},{"t":3.86,"v":84},{"t":3.94,"v":85.5},
{"t":0,"v":75},{"t":0.02,"v":70},{"t":0.05,"v":66},{"t":0.08,"v":73},{"t":0.12,"v":77},{"t":0.18,"v":72},{"t":0.22,"v":78},{"t":0.28,"v":74},{"t":0.35,"v":77},{"t":0.42,"v":71},{"t":0.48,"v":76},{"t":0.55,"v":73},{"t":0.6,"v":78},{"t":0.68,"v":75},{"t":0.75,"v":77},{"t":0.82,"v":72},{"t":0.9,"v":76},{"t":0.98,"v":78},{"t":1.05,"v":74},{"t":1.1,"v":70},{"t":1.18,"v":77},{"t":1.25,"v":73},{"t":1.32,"v":78},{"t":1.38,"v":74},{"t":1.45,"v":69},{"t":1.5,"v":76},{"t":1.55,"v":71},{"t":1.6,"v":78},{"t":1.68,"v":72},{"t":1.73,"v":66},{"t":1.77,"v":60},{"t":1.8,"v":68},{"t":1.83,"v":75},{"t":1.9,"v":72},{"t":1.95,"v":64},{"t":2,"v":77},{"t":2.05,"v":70},{"t":2.1,"v":66},{"t":2.15,"v":74},{"t":2.2,"v":61},{"t":2.25,"v":71},{"t":2.3,"v":76},{"t":2.35,"v":68},{"t":2.4,"v":73},{"t":2.45,"v":65},{"t":2.5,"v":77},{"t":2.55,"v":70},{"t":2.6,"v":74},{"t":2.65,"v":63},{"t":2.7,"v":72},{"t":2.75,"v":78},{"t":2.8,"v":69},{"t":2.85,"v":75},{"t":2.9,"v":66},{"t":2.95,"v":73},{"t":3,"v":77},{"t":3.05,"v":70},{"t":3.1,"v":74},{"t":3.15,"v":65},{"t":3.2,"v":72},{"t":3.25,"v":77},{"t":3.3,"v":69},{"t":3.35,"v":74},{"t":3.45,"v":76},{"t":3.55,"v":72},{"t":3.6,"v":78},{"t":3.62,"v":68},{"t":3.65,"v":64},{"t":3.7,"v":74},{"t":3.75,"v":77},{"t":3.82,"v":71},{"t":3.86,"v":76},{"t":3.9,"v":74},{"t":3.95,"v":72},
{"t":-0.01,"v":68.3},{"t":0.24,"v":52.2},{"t":0.23,"v":45.6},{"t":1.27,"v":52.4},{"t":1.36,"v":52},{"t":2.67,"v":52.2},{"t":2.32,"v":57.8},{"t":2.7,"v":61.9},{"t":2.92,"v":65},{"t":3.03,"v":59.7},{"t":3.1,"v":59.7},{"t":3.02,"v":56.1},{"t":3.64,"v":58.3},{"t":3.63,"v":65},{"t":2.06,"v":61.7},{"t":2.14,"v":64.8},{"t":1.82,"v":65.2},{"t":1.8,"v":70.6},{"t":1.72,"v":63.3},{"t":1.68,"v":63.3},
{"t":-0.02,"v":28},{"t":0,"v":22},{"t":0.01,"v":26},{"t":0.02,"v":31},{"t":0.03,"v":18},{"t":0.04,"v":24},{"t":0.05,"v":34},{"t":0.06,"v":20},{"t":0.07,"v":27},{"t":0.08,"v":15},{"t":0.09,"v":29},{"t":0.1,"v":23},{"t":0.11,"v":32},{"t":0.12,"v":19},{"t":0.13,"v":26},{"t":0.14,"v":30},{"t":0.15,"v":21},{"t":0.16,"v":33},{"t":0.17,"v":25},{"t":0.18,"v":17},{"t":0.19,"v":28},{"t":0.2,"v":22},{"t":0.21,"v":31},{"t":0.22,"v":26},{"t":0.23,"v":14},{"t":0.24,"v":24},{"t":0.25,"v":29},{"t":0.26,"v":19},{"t":0.27,"v":27},{"t":0.28,"v":23},{"t":0.29,"v":12},{"t":0.3,"v":25},{"t":0.31,"v":20},{"t":0.32,"v":28},{"t":0.33,"v":16},{"t":0.34,"v":24},{"t":0.35,"v":21},{"t":0.36,"v":26},{"t":0.37,"v":13},{"t":0.38,"v":22},{"t":0.39,"v":18},{"t":0.4,"v":25},{"t":0.41,"v":20},{"t":0.42,"v":15},{"t":0.43,"v":23},{"t":0.44,"v":27},{"t":0.45,"v":19},{"t":0.46,"v":24},{"t":0.47,"v":11},{"t":0.48,"v":21},{"t":0.49,"v":26},{"t":0.5,"v":17},{"t":0.51,"v":23},{"t":0.52,"v":28},{"t":0.53,"v":20},{"t":0.54,"v":25},{"t":0.55,"v":14},{"t":0.56,"v":22},{"t":0.57,"v":27},{"t":0.58,"v":19},{"t":0.59,"v":24},{"t":0.6,"v":29},{"t":0.61,"v":21},{"t":0.62,"v":26},{"t":0.63,"v":31},{"t":0.64,"v":23},{"t":0.65,"v":28},{"t":0.66,"v":18},{"t":0.67,"v":25},{"t":0.68,"v":30},{"t":0.69,"v":22},{"t":0.7,"v":27},{"t":0.71,"v":32},{"t":0.72,"v":20},{"t":0.73,"v":26},{"t":0.74,"v":29},{"t":0.75,"v":17},{"t":0.76,"v":24},{"t":0.77,"v":28},{"t":0.78,"v":22},{"t":0.8,"v":26},{"t":0.82,"v":19},{"t":0.84,"v":24},{"t":0.86,"v":15},{"t":0.88,"v":21},{"t":0.9,"v":34},{"t":0.92,"v":27},{"t":0.94,"v":23},{"t":0.96,"v":18},{"t":0.98,"v":28},{"t":1,"v":21},{"t":1.02,"v":30},{"t":1.04,"v":25},{"t":1.06,"v":16},{"t":1.1,"v":22},{"t":1.14,"v":13},
{"t":0.015,"v":24.5},{"t":0.035,"v":29.5},{"t":0.055,"v":21.5},{"t":0.075,"v":25.5},{"t":0.095,"v":19},{"t":0.115,"v":27.5},{"t":0.135,"v":23},{"t":0.155,"v":28.5},{"t":0.175,"v":20.5},{"t":0.195,"v":24.5},{"t":0.215,"v":27},{"t":0.235,"v":21.5},{"t":0.255,"v":25.5},{"t":0.275,"v":18.5},{"t":0.295,"v":22.5},{"t":0.315,"v":26.5},{"t":0.335,"v":20},{"t":0.355,"v":23.5},{"t":0.375,"v":17.5},{"t":0.395,"v":21.5},{"t":0.415,"v":25},{"t":0.435,"v":19.5},{"t":0.455,"v":22},{"t":0.475,"v":16.5},{"t":0.495,"v":23.5},{"t":0.515,"v":19.5},{"t":0.535,"v":25.5},{"t":0.555,"v":21},{"t":0.575,"v":24},{"t":0.595,"v":27},{"t":0.615,"v":22.5},{"t":0.635,"v":27.5},{"t":0.655,"v":23.5},{"t":0.675,"v":28},{"t":0.695,"v":25},{"t":0.715,"v":29.5},{"t":0.735,"v":24},{"t":0.755,"v":26.5},{"t":0.775,"v":21},{"t":0.795,"v":25},{"t":0.815,"v":28},{"t":0.835,"v":22},{"t":0.855,"v":26},{"t":0.875,"v":19},{"t":0.895,"v":24},{"t":0.915,"v":30},{"t":0.935,"v":26},{"t":0.955,"v":21},{"t":0.975,"v":25},{"t":0.995,"v":29},{"t":1.03,"v":23.5},{"t":1.08,"v":27},
{"t":0.21,"v":45.6},{"t":0.53,"v":43.9},{"t":0.01,"v":34.4},{"t":0.16,"v":7.2},{"t":0.27,"v":8.9},{"t":0.58,"v":7.8},{"t":0.98,"v":7},{"t":1.07,"v":35.5},{"t":1.2,"v":12.8},{"t":1.34,"v":37.2},{"t":1.31,"v":32.8},{"t":1.41,"v":24.4},{"t":1.47,"v":20.5},{"t":1.51,"v":18.9},{"t":1.58,"v":12.8},{"t":1.49,"v":10.8},{"t":1.24,"v":27.8},{"t":1.38,"v":21.1},{"t":1.75,"v":37.2},{"t":1.84,"v":38.9},{"t":1.91,"v":36.1},{"t":2.05,"v":41.1},{"t":2.19,"v":37.2},{"t":2.29,"v":38.3},{"t":2.3,"v":36.7},{"t":2.26,"v":35},{"t":2.4,"v":31.1},{"t":2.63,"v":31.7},{"t":2.65,"v":32.2},{"t":2.83,"v":36.7},{"t":2.86,"v":36.1},{"t":2.89,"v":33.9},{"t":2.05,"v":12.2},{"t":2.36,"v":17.8},{"t":1.65,"v":23.7},{"t":3,"v":38.3},{"t":3.05,"v":31.7},{"t":3.15,"v":41.1},{"t":3.17,"v":28.3},{"t":3.22,"v":27.2},{"t":3.26,"v":34.4},{"t":3.27,"v":30.6},{"t":3.29,"v":27.8},{"t":3.2,"v":24.4},{"t":3.36,"v":24.4},{"t":3.37,"v":20},{"t":3.32,"v":21.1},{"t":3.1,"v":18.3},{"t":3.08,"v":15.2},{"t":3.19,"v":21.1},{"t":3.3,"v":12.8},{"t":3.3,"v":6.7},{"t":3.39,"v":2.8},{"t":3.33,"v":2.2},{"t":3.69,"v":38.6},{"t":3.76,"v":37.2},{"t":3.77,"v":31.7},{"t":3.83,"v":23.9},{"t":3.85,"v":25.6},{"t":3.9,"v":25},{"t":3.91,"v":22.8},{"t":3.93,"v":21.1},{"t":3.97,"v":21.1},{"t":3.95,"v":36.1},{"t":3.95,"v":30.6},{"t":3.83,"v":16.1},{"t":3.93,"v":12.2},{"t":3.89,"v":6.7},{"t":3.94,"v":38.9},
{"t":0.01,"v":1.9},{"t":0.1,"v":1.9},{"t":0.44,"v":1.9},{"t":0.5,"v":1.9},{"t":0.61,"v":1.9},{"t":0.67,"v":1.9},{"t":0.71,"v":1.9},{"t":0.75,"v":1.9},{"t":0.88,"v":1.9},{"t":0.9,"v":1.9},{"t":1.2,"v":1.9},{"t":1.35,"v":1.9},{"t":1.55,"v":1.9},{"t":1.59,"v":1.9},{"t":1.62,"v":1.9},{"t":1.81,"v":1.9},{"t":1.86,"v":1.9},{"t":3.33,"v":1.9},{"t":3.39,"v":1.9},{"t":3.82,"v":1.9},{"t":3.9,"v":1.9}],
"REgreen": [{"t":1.38,"v":84.8},{"t":1.4,"v":84.4},{"t":1.42,"v":84.1},{"t":1.44,"v":84.8},{"t":1.45,"v":85.6},{"t":1.47,"v":83.9},{"t":1.49,"v":83},{"t":1.52,"v":84.1},{"t":1.54,"v":82.6},{"t":1.56,"v":81.9},{"t":1.58,"v":81.9},{"t":1.6,"v":81.1},{"t":1.62,"v":80.3},{"t":1.64,"v":77.2},{"t":1.66,"v":78.1},{"t":1.68,"v":79.4},{"t":1.69,"v":81.7},{"t":1.71,"v":83.9},{"t":1.72,"v":85.9},{"t":1.74,"v":81.4},{"t":1.64,"v":76.3},{"t":1.75,"v":62.4},
{"t":-0.01,"v":26.3},{"t":1.75,"v":27.2},{"t":1.76,"v":23.3},{"t":1.77,"v":20.8},{"t":1.82,"v":17.4},{"t":1.79,"v":11.1},{"t":1.8,"v":1.9},{"t":1.82,"v":23.9},{"t":1.84,"v":23.3},{"t":1.86,"v":24.1},{"t":1.87,"v":28.6},{"t":1.88,"v":30.6},{"t":1.9,"v":31.1},{"t":1.89,"v":28.9},{"t":1.92,"v":32.8},{"t":1.93,"v":34.4},{"t":1.95,"v":35},{"t":1.96,"v":33.9},{"t":1.98,"v":31.7},{"t":1.99,"v":34.4},{"t":2.01,"v":33.3},{"t":2.02,"v":31.7},{"t":2.04,"v":31.1},{"t":2.05,"v":32.2},{"t":2.07,"v":32.8},{"t":2.09,"v":35},{"t":2.1,"v":33.3},{"t":2.11,"v":31.1},{"t":2.14,"v":30},{"t":2.15,"v":29.7},{"t":2.17,"v":29.2},{"t":2.19,"v":28.1},{"t":2.21,"v":26.7},{"t":2.22,"v":25},{"t":2.23,"v":28.3},{"t":2.25,"v":27.4},{"t":2.26,"v":26.7},{"t":2.29,"v":25.6},{"t":2.31,"v":25},{"t":2.33,"v":26.3},{"t":2.34,"v":24.4},{"t":2.36,"v":25.6},{"t":2.38,"v":24.4},{"t":2.41,"v":26.1},{"t":2.42,"v":22.8},{"t":2.43,"v":21.1},{"t":2.45,"v":20},{"t":2.47,"v":28.9},{"t":2.49,"v":28.6},{"t":2.51,"v":28.1},{"t":2.52,"v":27.2},{"t":2.54,"v":28.3},{"t":2.55,"v":29.7},{"t":2.56,"v":25.6},{"t":2.58,"v":24.4},{"t":2.6,"v":22.2},{"t":2.63,"v":21.7},{"t":2.59,"v":17.2},{"t":2.61,"v":16.1},{"t":2.63,"v":17.8},{"t":2.65,"v":13.9},{"t":2.68,"v":16.1},{"t":2.69,"v":14.4},{"t":2.7,"v":13.9},{"t":2.59,"v":4.1},{"t":2.71,"v":1.9},{"t":2.74,"v":1.9},{"t":2.76,"v":20},{"t":2.78,"v":23},{"t":2.79,"v":19.4},{"t":2.8,"v":21.7},{"t":2.82,"v":23},{"t":2.83,"v":18.9},{"t":2.85,"v":17.8},{"t":2.86,"v":21.1},{"t":2.83,"v":14.4},{"t":2.86,"v":12.2},{"t":2.85,"v":1.9},{"t":2.65,"v":21.7}],
"RErule": [{"t0":-0.02,"t1":2.88,"v":55.2},{"t0":3.88,"t1":3.98,"v":55.2}],
"RErect": [{"t0":1.88,"t1":2.52,"lo":80.3,"hi":84.3}],
"RPpink": [{"t":-0.02,"hz":114.7},{"t":0.06,"hz":120},{"t":0.07,"hz":112},{"t":0.1,"hz":110.7},{"t":0.13,"hz":109.3},{"t":0.16,"hz":111.5},{"t":0.2,"hz":112.5},{"t":0.24,"hz":111.5},{"t":0.28,"hz":112.5},{"t":0.33,"hz":112},{"t":0.37,"hz":113.3},{"t":0.41,"hz":113.3},{"t":0.44,"hz":111.5},{"t":0.48,"hz":110.7},{"t":0.51,"hz":112},{"t":0.56,"hz":116.8},{"t":0.58,"hz":114.7},{"t":0.61,"hz":113.3},{"t":0.64,"hz":116},{"t":0.67,"hz":134.7},{"t":0.68,"hz":122.7},{"t":0.7,"hz":116.8},{"t":0.73,"hz":117.9},{"t":0.75,"hz":116.8},{"t":0.78,"hz":114.7},{"t":0.81,"hz":116},{"t":0.84,"hz":117.3},{"t":0.87,"hz":116.8},{"t":0.9,"hz":114.7},{"t":0.93,"hz":113.3},{"t":0.95,"hz":112},{"t":0.98,"hz":110.7},{"t":1.01,"hz":113.3},{"t":1.04,"hz":114.7},{"t":1.07,"hz":112},{"t":1.1,"hz":113.3},{"t":1.12,"hz":115.2},{"t":1.15,"hz":112},{"t":1.18,"hz":113.3},{"t":1.21,"hz":114.7},{"t":1.24,"hz":113.3},{"t":1.27,"hz":115.2},
{"t":0.88,"hz":125.3},{"t":0.91,"hz":133.3},{"t":0.94,"hz":140},{"t":0.97,"hz":145.3},{"t":1,"hz":146.1},{"t":1.02,"hz":140},{"t":1.04,"hz":133.3},{"t":1.07,"hz":128},{"t":1.1,"hz":122.7},{"t":1.12,"hz":138.7},{"t":1.15,"hz":146.7},{"t":1.18,"hz":147.2},{"t":1.21,"hz":146.1},{"t":1.24,"hz":145.3},{"t":1.27,"hz":146.1},{"t":1.3,"hz":145.3},{"t":1.32,"hz":146.1},{"t":1.35,"hz":145.3},{"t":1.38,"hz":146.1},{"t":1.41,"hz":145.3},{"t":1.43,"hz":142.7},{"t":1.45,"hz":137.3},{"t":1.47,"hz":128},{"t":1.48,"hz":121.3},{"t":1.5,"hz":117.3},{"t":1.27,"hz":125.3},{"t":1.3,"hz":130.7},{"t":1.32,"hz":136},{"t":1.35,"hz":141.3},{"t":1.34,"hz":126.7},{"t":1.37,"hz":136},{"t":1.4,"hz":140},{"t":1.1,"hz":140},
{"t":1.49,"hz":142.7},{"t":1.52,"hz":146.1},{"t":1.55,"hz":148},{"t":1.58,"hz":147.2},{"t":1.61,"hz":145.3},{"t":1.64,"hz":141.9},{"t":1.67,"hz":140},{"t":1.69,"hz":138.7},{"t":1.72,"hz":134.7},{"t":1.75,"hz":133.3},{"t":1.78,"hz":132},{"t":1.81,"hz":129.3},{"t":1.84,"hz":126.7},{"t":1.86,"hz":124},{"t":1.89,"hz":122.7},{"t":1.92,"hz":121.3},{"t":1.95,"hz":120},{"t":1.82,"hz":130.7},{"t":1.79,"hz":125.3},{"t":1.76,"hz":121.3},{"t":1.74,"hz":120},
{"t":1.92,"hz":137.3},{"t":1.98,"hz":138.1},{"t":2.04,"hz":137.3},{"t":2.09,"hz":138.1},{"t":2.15,"hz":136.5},{"t":2.21,"hz":137.3},{"t":2.26,"hz":138.1},{"t":2.32,"hz":137.3},{"t":2.38,"hz":136.5},{"t":2.43,"hz":136.5},{"t":2.49,"hz":136},{"t":2.55,"hz":135.5},{"t":2.6,"hz":135.5},{"t":2.65,"hz":134.7},{"t":2.68,"hz":130.7},{"t":2.69,"hz":126.7},{"t":1.95,"hz":138.7},{"t":2.01,"hz":137.3},{"t":2.06,"hz":138.7},{"t":2.12,"hz":137.3},{"t":2.18,"hz":136},{"t":2.23,"hz":133.3},{"t":2.29,"hz":136},{"t":2.35,"hz":137.3},{"t":2.41,"hz":136.5},{"t":2.46,"hz":136},{"t":2.52,"hz":136},{"t":2.58,"hz":136},{"t":2.63,"hz":134.7},
{"t":2.12,"hz":110.7},{"t":2.15,"hz":108},{"t":2.18,"hz":110.7},{"t":2.21,"hz":112},{"t":2.23,"hz":113.3},{"t":2.31,"hz":116},{"t":2.34,"hz":118.7},{"t":2.6,"hz":120},{"t":2.63,"hz":119.5},{"t":2.66,"hz":118.7},{"t":2.68,"hz":117.3},{"t":2.23,"hz":121.3},
{"t":2.8,"hz":138.7},{"t":2.83,"hz":136},{"t":2.84,"hz":130.7},{"t":2.86,"hz":126.7},{"t":2.86,"hz":122.7},{"t":2.88,"hz":120.5},{"t":2.9,"hz":118.7},{"t":2.92,"hz":117.9},{"t":2.95,"hz":116.8},{"t":2.97,"hz":115.2},
{"t":3,"hz":150.7},{"t":3.02,"hz":149.3},{"t":3.04,"hz":146.7},{"t":3.05,"hz":142.7},{"t":3.07,"hz":137.3},{"t":3.09,"hz":133.3},{"t":3.1,"hz":129.3},{"t":3.12,"hz":125.9},{"t":3.13,"hz":122.7},{"t":3.15,"hz":120},{"t":3.16,"hz":117.3},{"t":3.17,"hz":114.7},{"t":3.19,"hz":110.7},{"t":3.2,"hz":106.7},{"t":3.22,"hz":102.7},{"t":3.23,"hz":98.7},{"t":3.26,"hz":96},{"t":3.29,"hz":94.7},{"t":3.32,"hz":93.3},{"t":3.35,"hz":92.8},{"t":3.37,"hz":92},{"t":3.4,"hz":92},{"t":3.43,"hz":92.8},{"t":3.44,"hz":94.7},{"t":3,"hz":138.7},{"t":3.17,"hz":121.3},{"t":3.22,"hz":113.3},{"t":3.25,"hz":113.3},{"t":3.27,"hz":112.5},
{"t":3.43,"hz":117.9},{"t":3.46,"hz":116.8},{"t":3.49,"hz":117.3},{"t":3.52,"hz":116.8},{"t":3.54,"hz":117.3},{"t":3.57,"hz":116.8},{"t":3.6,"hz":117.3},{"t":3.63,"hz":117.9},{"t":3.66,"hz":117.3},{"t":3.69,"hz":116.8},{"t":3.72,"hz":118.7},{"t":3.74,"hz":130.1},{"t":3.75,"hz":122.1},{"t":3.77,"hz":119.5},{"t":3.81,"hz":116},{"t":3.83,"hz":113.3},{"t":3.86,"hz":112},{"t":3.89,"hz":113.3},{"t":3.91,"hz":112.5},{"t":3.94,"hz":113.3},{"t":3.97,"hz":114.1},{"t":3.46,"hz":103.5},{"t":3.49,"hz":101.9},{"t":3.52,"hz":102.7},{"t":3.54,"hz":104},
{"t":2.41,"hz":56},{"t":2.45,"hz":56},{"t":2.51,"hz":56},{"t":2.55,"hz":56}],
"RPred": [{"t":1.49,"hz":115.2},{"t":1.52,"hz":113.3},{"t":1.54,"hz":111.5},{"t":1.56,"hz":109.3},{"t":1.57,"hz":108.5},{"t":1.58,"hz":108},{"t":1.6,"hz":108},{"t":1.62,"hz":108.8},{"t":1.64,"hz":109.3},{"t":1.65,"hz":108},{"t":1.67,"hz":109.9},{"t":1.68,"hz":108.8}],
"RPrule": [{"t0":-0.03,"t1":1.6,"hz":114.8},{"t0":1.6,"t1":2.98,"hz":113.8}],
"RPblue": [{"t0":1.61,"t1":1.78,"hz":24.5}]
},
"spacing": 64,
"hconcat": [
{
 "spacing": 0,
 "vconcat": [
  {
   "width": 566, "height": 29,
   "layer": [
    {"data": {"values": [{}]}, "mark": {"type": "rect", "stroke": "#8c8c8c", "strokeWidth": 1, "color": {"gradient": "linear", "x1": 0, "y1": 0, "x2": 0, "y2": 1, "stops": [{"offset": 0, "color": "#efefeb"}, {"offset": 1, "color": "#dededa"}]}}, "encoding": {}},
    {"data": {"values": [{}]}, "mark": {"type": "text", "font": "DejaVu Sans", "fontSize": 13, "fontWeight": "bold", "color": "#a0a0a0"}, "encoding": {"x": {"datum": 0.455, "type": "quantitative", "scale": {"domain": [0, 1], "nice": false, "zero": false}, "axis": null}, "text": {"value": "aizula"}}},
    {"data": {"values": [{}]}, "mark": {"type": "square", "size": 200, "fill": "#f6f6f4", "stroke": "#a0a0a0", "strokeWidth": 1, "opacity": 1}, "encoding": {"x": {"datum": 0.024, "type": "quantitative", "axis": null}}},
    {"data": {"values": [{}]}, "mark": {"type": "square", "size": 320, "fill": "#e4e4e0", "stroke": "#8c8c8c", "strokeWidth": 1, "opacity": 1}, "encoding": {"x": {"datum": 0.892, "type": "quantitative", "axis": null}}},
    {"data": {"values": [{}]}, "mark": {"type": "square", "size": 320, "fill": "#e4e4e0", "stroke": "#8c8c8c", "strokeWidth": 1, "opacity": 1}, "encoding": {"x": {"datum": 0.932, "type": "quantitative", "axis": null}}},
    {"data": {"values": [{}]}, "mark": {"type": "square", "size": 320, "fill": "#e4e4e0", "stroke": "#8c8c8c", "strokeWidth": 1, "opacity": 1}, "encoding": {"x": {"datum": 0.972, "type": "quantitative", "axis": null}}},
    {"data": {"values": [{}]}, "mark": {"type": "text", "font": "DejaVu Sans", "fontSize": 16, "fontWeight": "bold", "color": "#8a8a8a", "dy": -2}, "encoding": {"x": {"datum": 0.892, "type": "quantitative", "axis": null}, "text": {"value": "_"}}},
    {"data": {"values": [{}]}, "mark": {"type": "text", "font": "DejaVu Sans", "fontSize": 16, "color": "#8a8a8a"}, "encoding": {"x": {"datum": 0.932, "type": "quantitative", "axis": null}, "text": {"value": "□"}}},
    {"data": {"values": [{}]}, "mark": {"type": "text", "font": "DejaVu Sans", "fontSize": 17, "color": "#8a8a8a"}, "encoding": {"x": {"datum": 0.972, "type": "quantitative", "axis": null}, "text": {"value": "X"}}}
   ]
  },
  {
   "spacing": 0,
   "hconcat": [
    {"width": 6, "height": 840, "data": {"values": [{}]}, "mark": {"type": "rect", "color": "#deded9"}, "encoding": {}},
    {
     "spacing": 0,
     "vconcat": [
      {
       "width": 556, "height": 88,
       "data": {"name": "states"},
       "layer": [
        {"transform": [{"filter": "datum.current"}], "mark": {"type": "rect", "color": "#f0ffff"}, "encoding": {"x": {"field": "state", "type": "nominal", "scale": {"type": "band", "domain": ["initializing", "calibrating", "running", "finishing", "exiting"], "paddingInner": 0, "paddingOuter": 0}, "axis": null}}},
        {"mark": {"type": "text", "align": "left", "baseline": "middle", "dx": 12, "font": "DejaVu Sans Mono", "fontSize": 12.5, "color": "#000000"}, "encoding": {"x": {"field": "state", "type": "nominal", "bandPosition": 0, "scale": {"type": "band"}, "axis": null}, "text": {"field": "state"}}}
       ]
      },
      {"width": 556, "height": 88, "data": {"values": [{"indicator": "off"}]}, "mark": {"type": "rect"}, "encoding": {"color": {"field": "indicator", "type": "nominal", "scale": {"domain": ["off", "on"], "range": ["#0000ff", "#ff0000"]}, "legend": null}}},
      {
       "width": 556, "height": 272,
       "layer": [
        {"data": {"name": "LEg"}, "mark": {"type": "square", "size": 6, "color": "#d3d3d3", "opacity": 1}, "encoding": {"x": {"field": "t", "type": "quantitative", "scale": {"domain": [-0.2222, 4.1905], "nice": false, "zero": false}, "axis": {"orient": "top", "values": [0, 1, 2, 3, 4], "format": "d", "title": null, "labelPadding": -9.5, "labelBaseline": "middle", "labelAlign": "center", "domain": false, "ticks": false, "grid": false, "labelFlush": false, "labelOverlap": false}}, "y": {"field": "v", "type": "quantitative", "scale": {"domain": [0, 90.67], "nice": false, "zero": false}, "axis": null}}},
        {"data": {"name": "LEgreen"}, "mark": {"type": "square", "size": 6, "color": "#00ff00", "opacity": 1}, "encoding": {"x": {"field": "t", "type": "quantitative", "axis": {"orient": "top", "values": [0, 1, 2, 3, 4], "format": "d", "title": null, "labelPadding": -9.5, "labelBaseline": "middle", "labelAlign": "center", "domain": false, "ticks": false, "grid": false, "labelFlush": false, "labelOverlap": false}}, "y": {"field": "v", "type": "quantitative", "axis": null}}},
        {"data": {"name": "LErule"}, "mark": {"type": "rule", "color": "#333333", "strokeWidth": 1}, "encoding": {"x": {"field": "t0", "type": "quantitative", "axis": {"orient": "top", "values": [0, 1, 2, 3, 4], "format": "d", "title": null, "labelPadding": -9.5, "labelBaseline": "middle", "labelAlign": "center", "domain": false, "ticks": false, "grid": false, "labelFlush": false, "labelOverlap": false}}, "x2": {"field": "t1"}, "y": {"field": "v", "type": "quantitative", "axis": null}}},
        {"data": {"values": [{}]}, "mark": {"type": "text", "align": "left", "baseline": "middle", "fontSize": 14, "color": "#000000"}, "encoding": {"x": {"datum": -0.175, "type": "quantitative", "axis": {"orient": "top", "values": [0, 1, 2, 3, 4], "format": "d", "title": null, "labelPadding": -9.5, "labelBaseline": "middle", "labelAlign": "center", "domain": false, "ticks": false, "grid": false, "labelFlush": false, "labelOverlap": false}}, "y": {"datum": 75.7, "type": "quantitative", "axis": null}, "text": {"value": "Energy"}}}
       ]
      },
      {
       "width": 556, "height": 392,
       "layer": [
        {"data": {"name": "LPpink"}, "mark": {"type": "square", "size": 5, "color": "#ffc0cb", "opacity": 1}, "encoding": {"x": {"field": "t", "type": "quantitative", "scale": {"domain": [-0.2222, 4.1905], "nice": false, "zero": false}, "axis": {"orient": "bottom", "values": [0, 1, 2, 3, 4], "format": "d", "title": null, "labelPadding": -26, "labelBaseline": "middle", "labelAlign": "center", "domain": false, "ticks": false, "grid": false, "labelFlush": false, "labelOverlap": false}}, "y": {"field": "hz", "type": "quantitative", "scale": {"domain": [-21.6, 292], "nice": false, "zero": false}, "axis": {"orient": "left", "values": [0, 50, 100, 150, 200], "format": "d", "title": null, "labelPadding": 0, "labelAlign": "left", "labelBaseline": "middle", "domain": false, "ticks": false, "grid": false, "labelFlush": false, "labelOverlap": false}}}},
        {"data": {"name": "LPred"}, "mark": {"type": "square", "size": 7, "color": "#8b0000", "opacity": 1}, "encoding": {"x": {"field": "t", "type": "quantitative", "axis": {"orient": "bottom", "values": [0, 1, 2, 3, 4], "format": "d", "title": null, "labelPadding": -26, "labelBaseline": "middle", "labelAlign": "center", "domain": false, "ticks": false, "grid": false, "labelFlush": false, "labelOverlap": false}}, "y": {"field": "hz", "type": "quantitative", "axis": {"orient": "left", "values": [0, 50, 100, 150, 200], "format": "d", "title": null, "labelPadding": 0, "labelAlign": "left", "labelBaseline": "middle", "domain": false, "ticks": false, "grid": false, "labelFlush": false, "labelOverlap": false}}}},
        {"data": {"name": "LPrule"}, "mark": {"type": "rule", "color": "#000000", "strokeWidth": 1}, "encoding": {"x": {"field": "t0", "type": "quantitative", "axis": {"orient": "bottom", "values": [0, 1, 2, 3, 4], "format": "d", "title": null, "labelPadding": -26, "labelBaseline": "middle", "labelAlign": "center", "domain": false, "ticks": false, "grid": false, "labelFlush": false, "labelOverlap": false}}, "x2": {"field": "t1"}, "y": {"field": "hz", "type": "quantitative", "axis": {"orient": "left", "values": [0, 50, 100, 150, 200], "format": "d", "title": null, "labelPadding": 0, "labelAlign": "left", "labelBaseline": "middle", "domain": false, "ticks": false, "grid": false, "labelFlush": false, "labelOverlap": false}}}},
        {"data": {"values": [{}]}, "mark": {"type": "text", "align": "left", "baseline": "middle", "fontSize": 14, "color": "#000000"}, "encoding": {"x": {"datum": -0.175, "type": "quantitative", "axis": {"orient": "bottom", "values": [0, 1, 2, 3, 4], "format": "d", "title": null, "labelPadding": -26, "labelBaseline": "middle", "labelAlign": "center", "domain": false, "ticks": false, "grid": false, "labelFlush": false, "labelOverlap": false}}, "y": {"datum": 286.4, "type": "quantitative", "axis": {"orient": "left", "values": [0, 50, 100, 150, 200], "format": "d", "title": null, "labelPadding": 0, "labelAlign": "left", "labelBaseline": "middle", "domain": false, "ticks": false, "grid": false, "labelFlush": false, "labelOverlap": false}}, "text": {"value": "Pitch"}}}
       ]
      }
     ]
    },
    {"width": 4, "height": 840, "data": {"values": [{}]}, "mark": {"type": "rect", "color": "#deded9"}, "encoding": {}}
   ]
  },
  {"width": 566, "height": 6, "data": {"values": [{}]}, "mark": {"type": "rect", "color": "#deded9"}, "encoding": {}}
 ]
},
{
 "spacing": 0,
 "vconcat": [
  {
   "width": 560, "height": 29,
   "layer": [
    {"data": {"values": [{}]}, "mark": {"type": "rect", "stroke": "#3c4c64", "strokeWidth": 1, "color": {"gradient": "linear", "x1": 0, "y1": 0, "x2": 0, "y2": 1, "stops": [{"offset": 0, "color": "#a8b8cc"}, {"offset": 0.5, "color": "#8397b1"}, {"offset": 1, "color": "#607696"}]}}, "encoding": {}},
    {"data": {"values": [{}]}, "mark": {"type": "text", "font": "DejaVu Sans", "fontSize": 13, "fontWeight": "bold", "color": "#2a3648", "dx": 1, "dy": 1}, "encoding": {"x": {"datum": 0.46, "type": "quantitative", "scale": {"domain": [0, 1], "nice": false, "zero": false}, "axis": null}, "text": {"value": "aizula"}}},
    {"data": {"values": [{}]}, "mark": {"type": "text", "font": "DejaVu Sans", "fontSize": 13, "fontWeight": "bold", "color": "#ffffff"}, "encoding": {"x": {"datum": 0.46, "type": "quantitative", "axis": null}, "text": {"value": "aizula"}}},
    {"data": {"values": [{}]}, "mark": {"type": "square", "size": 220, "fill": "#eeeeee", "stroke": "#3c4c64", "strokeWidth": 1, "opacity": 1}, "encoding": {"x": {"datum": 0.028, "type": "quantitative", "axis": null}}},
    {"data": {"values": [{}]}, "mark": {"type": "square", "size": 340, "fill": "#dcdcdc", "stroke": "#30405a", "strokeWidth": 1, "opacity": 1}, "encoding": {"x": {"datum": 0.898, "type": "quantitative", "axis": null}}},
    {"data": {"values": [{}]}, "mark": {"type": "square", "size": 340, "fill": "#dcdcdc", "stroke": "#30405a", "strokeWidth": 1, "opacity": 1}, "encoding": {"x": {"datum": 0.938, "type": "quantitative", "axis": null}}},
    {"data": {"values": [{}]}, "mark": {"type": "square", "size": 340, "fill": "#dcdcdc", "stroke": "#30405a", "strokeWidth": 1, "opacity": 1}, "encoding": {"x": {"datum": 0.977, "type": "quantitative", "axis": null}}},
    {"data": {"values": [{}]}, "mark": {"type": "text", "font": "DejaVu Sans", "fontSize": 16, "fontWeight": "bold", "color": "#111111", "dy": -2}, "encoding": {"x": {"datum": 0.898, "type": "quantitative", "axis": null}, "text": {"value": "_"}}},
    {"data": {"values": [{}]}, "mark": {"type": "text", "font": "DejaVu Sans", "fontSize": 16, "fontWeight": "bold", "color": "#111111"}, "encoding": {"x": {"datum": 0.938, "type": "quantitative", "axis": null}, "text": {"value": "□"}}},
    {"data": {"values": [{}]}, "mark": {"type": "text", "font": "DejaVu Sans", "fontSize": 17, "fontWeight": "bold", "color": "#111111"}, "encoding": {"x": {"datum": 0.977, "type": "quantitative", "axis": null}, "text": {"value": "X"}}}
   ]
  },
  {
   "spacing": 0,
   "hconcat": [
    {"width": 6, "height": 840, "data": {"values": [{}]}, "mark": {"type": "rect", "color": "#8a9db5"}, "encoding": {}},
    {
     "spacing": 0,
     "vconcat": [
      {
       "width": 550, "height": 88,
       "data": {"name": "states"},
       "layer": [
        {"transform": [{"filter": "datum.current"}], "mark": {"type": "rect", "color": "#eefcfd"}, "encoding": {"x": {"field": "state", "type": "nominal", "scale": {"type": "band", "domain": ["initializing", "calibrating", "running", "finishing", "exiting"], "paddingInner": 0, "paddingOuter": 0}, "axis": null}}},
        {"mark": {"type": "text", "align": "left", "baseline": "middle", "dx": 12, "font": "DejaVu Sans Mono", "fontSize": 12.5, "color": "#000000"}, "encoding": {"x": {"field": "state", "type": "nominal", "bandPosition": 0, "scale": {"type": "band"}, "axis": null}, "text": {"field": "state"}}}
       ]
      },
      {"width": 550, "height": 88, "data": {"values": [{"indicator": "on"}]}, "mark": {"type": "rect"}, "encoding": {"color": {"field": "indicator", "type": "nominal", "scale": {"domain": ["off", "on"], "range": ["#0000ff", "#ff0000"]}, "legend": null}}},
      {
       "width": 550, "height": 272,
       "layer": [
        {"data": {"name": "REg"}, "mark": {"type": "square", "size": 6, "color": "#d3d3d3", "opacity": 1}, "encoding": {"x": {"field": "t", "type": "quantitative", "scale": {"domain": [-0.2219, 4.1363], "nice": false, "zero": false}, "axis": {"orient": "top", "values": [0, 1, 2, 3, 4], "format": "d", "title": null, "labelPadding": -9.5, "labelBaseline": "middle", "labelAlign": "center", "domain": false, "ticks": false, "grid": false, "labelFlush": false, "labelOverlap": false}}, "y": {"field": "v", "type": "quantitative", "scale": {"domain": [0, 90.67], "nice": false, "zero": false}, "axis": null}}},
        {"data": {"name": "REgreen"}, "mark": {"type": "square", "size": 6, "color": "#00ff00", "opacity": 1}, "encoding": {"x": {"field": "t", "type": "quantitative", "axis": {"orient": "top", "values": [0, 1, 2, 3, 4], "format": "d", "title": null, "labelPadding": -9.5, "labelBaseline": "middle", "labelAlign": "center", "domain": false, "ticks": false, "grid": false, "labelFlush": false, "labelOverlap": false}}, "y": {"field": "v", "type": "quantitative", "axis": null}}},
        {"data": {"name": "RErule"}, "mark": {"type": "rule", "color": "#333333", "strokeWidth": 1}, "encoding": {"x": {"field": "t0", "type": "quantitative", "axis": {"orient": "top", "values": [0, 1, 2, 3, 4], "format": "d", "title": null, "labelPadding": -9.5, "labelBaseline": "middle", "labelAlign": "center", "domain": false, "ticks": false, "grid": false, "labelFlush": false, "labelOverlap": false}}, "x2": {"field": "t1"}, "y": {"field": "v", "type": "quantitative", "axis": null}}},
        {"data": {"name": "RErect"}, "mark": {"type": "rect", "color": "#ff0000"}, "encoding": {"x": {"field": "t0", "type": "quantitative", "axis": {"orient": "top", "values": [0, 1, 2, 3, 4], "format": "d", "title": null, "labelPadding": -9.5, "labelBaseline": "middle", "labelAlign": "center", "domain": false, "ticks": false, "grid": false, "labelFlush": false, "labelOverlap": false}}, "x2": {"field": "t1"}, "y": {"field": "lo", "type": "quantitative", "axis": null}, "y2": {"field": "hi"}}},
        {"data": {"values": [{}]}, "mark": {"type": "text", "align": "left", "baseline": "middle", "fontSize": 14, "color": "#000000"}, "encoding": {"x": {"datum": -0.182, "type": "quantitative", "axis": {"orient": "top", "values": [0, 1, 2, 3, 4], "format": "d", "title": null, "labelPadding": -9.5, "labelBaseline": "middle", "labelAlign": "center", "domain": false, "ticks": false, "grid": false, "labelFlush": false, "labelOverlap": false}}, "y": {"datum": 75.7, "type": "quantitative", "axis": null}, "text": {"value": "Energy"}}}
       ]
      },
      {
       "width": 550, "height": 392,
       "layer": [
        {"data": {"name": "RPpink"}, "mark": {"type": "square", "size": 5, "color": "#ffc0cb", "opacity": 1}, "encoding": {"x": {"field": "t", "type": "quantitative", "scale": {"domain": [-0.2219, 4.1363], "nice": false, "zero": false}, "axis": {"orient": "bottom", "values": [0, 1, 2, 3, 4], "format": "d", "title": null, "labelPadding": -26, "labelBaseline": "middle", "labelAlign": "center", "domain": false, "ticks": false, "grid": false, "labelFlush": false, "labelOverlap": false}}, "y": {"field": "hz", "type": "quantitative", "scale": {"domain": [-21.6, 292], "nice": false, "zero": false}, "axis": {"orient": "left", "values": [0, 50, 100, 150, 200], "format": "d", "title": null, "labelPadding": 0, "labelAlign": "left", "labelBaseline": "middle", "domain": false, "ticks": false, "grid": false, "labelFlush": false, "labelOverlap": false}}}},
        {"data": {"name": "RPred"}, "mark": {"type": "square", "size": 7, "color": "#8b0000", "opacity": 1}, "encoding": {"x": {"field": "t", "type": "quantitative", "axis": {"orient": "bottom", "values": [0, 1, 2, 3, 4], "format": "d", "title": null, "labelPadding": -26, "labelBaseline": "middle", "labelAlign": "center", "domain": false, "ticks": false, "grid": false, "labelFlush": false, "labelOverlap": false}}, "y": {"field": "hz", "type": "quantitative", "axis": {"orient": "left", "values": [0, 50, 100, 150, 200], "format": "d", "title": null, "labelPadding": 0, "labelAlign": "left", "labelBaseline": "middle", "domain": false, "ticks": false, "grid": false, "labelFlush": false, "labelOverlap": false}}}},
        {"data": {"name": "RPrule"}, "mark": {"type": "rule", "color": "#000000", "strokeWidth": 1}, "encoding": {"x": {"field": "t0", "type": "quantitative", "axis": {"orient": "bottom", "values": [0, 1, 2, 3, 4], "format": "d", "title": null, "labelPadding": -26, "labelBaseline": "middle", "labelAlign": "center", "domain": false, "ticks": false, "grid": false, "labelFlush": false, "labelOverlap": false}}, "x2": {"field": "t1"}, "y": {"field": "hz", "type": "quantitative", "axis": {"orient": "left", "values": [0, 50, 100, 150, 200], "format": "d", "title": null, "labelPadding": 0, "labelAlign": "left", "labelBaseline": "middle", "domain": false, "ticks": false, "grid": false, "labelFlush": false, "labelOverlap": false}}}},
        {"data": {"name": "RPblue"}, "mark": {"type": "rule", "color": "#0000ff", "strokeWidth": 3}, "encoding": {"x": {"field": "t0", "type": "quantitative", "axis": {"orient": "bottom", "values": [0, 1, 2, 3, 4], "format": "d", "title": null, "labelPadding": -26, "labelBaseline": "middle", "labelAlign": "center", "domain": false, "ticks": false, "grid": false, "labelFlush": false, "labelOverlap": false}}, "x2": {"field": "t1"}, "y": {"field": "hz", "type": "quantitative", "axis": {"orient": "left", "values": [0, 50, 100, 150, 200], "format": "d", "title": null, "labelPadding": 0, "labelAlign": "left", "labelBaseline": "middle", "domain": false, "ticks": false, "grid": false, "labelFlush": false, "labelOverlap": false}}}},
        {"data": {"values": [{}]}, "mark": {"type": "text", "align": "left", "baseline": "middle", "fontSize": 14, "color": "#000000"}, "encoding": {"x": {"datum": -0.182, "type": "quantitative", "axis": {"orient": "bottom", "values": [0, 1, 2, 3, 4], "format": "d", "title": null, "labelPadding": -26, "labelBaseline": "middle", "labelAlign": "center", "domain": false, "ticks": false, "grid": false, "labelFlush": false, "labelOverlap": false}}, "y": {"datum": 286.4, "type": "quantitative", "axis": {"orient": "left", "values": [0, 50, 100, 150, 200], "format": "d", "title": null, "labelPadding": 0, "labelAlign": "left", "labelBaseline": "middle", "domain": false, "ticks": false, "grid": false, "labelFlush": false, "labelOverlap": false}}, "text": {"value": "Pitch"}}}
       ]
      }
     ]
    },
    {"width": 4, "height": 840, "data": {"values": [{}]}, "mark": {"type": "rect", "color": "#8a9db5"}, "encoding": {}}
   ]
  },
  {"width": 560, "height": 6, "data": {"values": [{}]}, "mark": {"type": "rect", "color": "#8a9db5"}, "encoding": {}}
 ]
}
]
}
